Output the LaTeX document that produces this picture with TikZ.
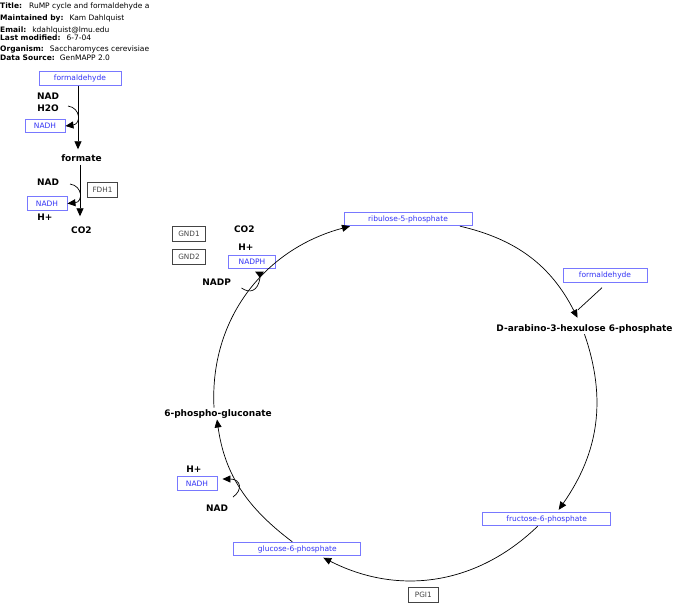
\documentclass[tikz,border=0pt]{standalone}
\usepackage{fontspec}
\setmainfont{DejaVu Sans}
\usepackage{tikz}
\usetikzlibrary{arrows.meta, positioning}
\definecolor{Blue}   {HTML}{3333F5}
\definecolor{BoxBlue}{HTML}{7878FF}
\definecolor{Gene}   {HTML}{444444}
\tikzset{
  mbox/.style={draw=BoxBlue, fill=white, line width=0.9pt, text=Blue, inner sep=0pt,
               font=\fontsize{7.5}{9}\selectfont, minimum height=13.5pt},
  gbox/.style={draw=Gene, line width=0.8pt, text=Gene, inner sep=0pt,
               font=\fontsize{7.3}{9}\selectfont, minimum height=15pt},
  lbl/.style={inner sep=0pt, text height=7pt, text depth=0pt,
              font=\fontsize{9}{10}\selectfont\bfseries},
  hdr/.style={anchor=base west, inner sep=0pt, font=\fontsize{7.5}{9}\selectfont},
  arr/.style={-{Triangle[length=8pt,width=7pt]}, line width=0.7pt},
  ln/.style={line width=0.7pt}
}

\begin{document}
\begin{tikzpicture}[x=1pt, y=-1pt]
  \useasboundingbox (0,0) rectangle (697,613);
  % header
  \node[hdr] (title)  at (0,8.7)  {\textbf{Title:}\hspace{7pt}RuMP cycle and formaldehyde a};
  \node[hdr] (maint)  at (0,20)   {\textbf{Maintained by:}\hspace{6pt}Kam Dahlquist};
  \node[hdr] (email)  at (0,32)   {\textbf{Email:}\hspace{6pt}kdahlquist@lmu.edu};
  \node[hdr] (modif)  at (0,40.4) {\textbf{Last modified:}\hspace{6pt}6-7-04};
  \node[hdr] (organ)  at (0,51.7) {\textbf{Organism:}\hspace{6pt}Saccharomyces cerevisiae};
  \node[hdr] (source) at (0,60.4) {\textbf{Data Source:}\hspace{5pt}GenMAPP 2.0};

  % formaldehyde -> formate -> CO2
  \node[mbox, minimum width=82pt] (fald1) at (80,78.5) {formaldehyde};
  \node[lbl] (nad1)    at (48,96)    {NAD};
  \node[lbl] (h2o)     at (48,108)   {H2O};
  \node[mbox, minimum width=40pt] (nadh1) at (45,126) {NADH};
  \node[lbl] (formate) at (81.5,158) {formate};
  \node[lbl] (nad2)    at (48,182)   {NAD};
  \node[gbox, minimum width=30pt] (fdh1) at (102.5,189.5) {FDH1};
  \node[mbox, minimum width=40pt] (nadh2) at (47,203.5) {NADH};
  \node[lbl] (hplus1)  at (45,217)   {H+};
  \node[lbl] (co2a)    at (81.5,230) {CO2};
  \coordinate (c1) at (68,106);
  \coordinate (c2) at (70,184);

  \draw[arr, shorten >=5pt] ([xshift=-2pt]fald1.south) -- ([xshift=-2pt]fald1.south |- formate.north);
  \draw[arr, shorten <=3pt, shorten >=10pt] ([xshift=-1.5pt]formate.south) -- ([xshift=-1.5pt]formate.south |- co2a.north);
  \draw[arr] (c1) .. controls (81,108) and (81,124) .. (nadh1.east);
  \draw[arr] (c2) .. controls (83,186) and (83,202) .. (nadh2.east);

  % RuMP cycle
  \node[mbox, minimum width=128pt] (r5p) at (408,219)   {ribulose-5-phosphate};
  \node[mbox, minimum width=84pt]  (fald2) at (605,275.5) {formaldehyde};
  \node[lbl] (hu6p) at (584.5,327.5) {D-arabino-3-hexulose 6-phosphate};
  \node[mbox, minimum width=128pt] (f6p) at (546.7,519) {fructose-6-phosphate};
  \node[mbox, minimum width=127pt] (g6p) at (297.3,549) {glucose-6-phosphate};
  \node[gbox, minimum width=30pt]  (pgi1) at (423.3,594.5) {PGI1};
  \node[lbl] (pg6) at (218,413.3) {6-phospho-gluconate};
  \node[gbox, minimum width=33pt]  (gnd1) at (189,234) {GND1};
  \node[gbox, minimum width=33pt]  (gnd2) at (189,257) {GND2};
  \node[lbl] (co2b)   at (244.3,229.3) {CO2};
  \node[lbl] (hplus2) at (246,246.7)   {H+};
  \node[mbox, minimum width=47pt] (nadph) at (252,262) {NADPH};
  \node[lbl] (nadp)   at (216.7,281.7) {NADP};
  \node[lbl] (hplus3) at (194,469)     {H+};
  \node[mbox, minimum width=40pt] (nadh3) at (197,483.5) {NADH};
  \node[lbl] (nad3)   at (217,508)     {NAD};
  \coordinate (c3) at (241.5,288);
  \coordinate (c4) at (233,497);

  \draw[arr] ([xshift=52pt]r5p.south) to[out=-13, in=117] ([xshift=-7pt,yshift=6pt]hu6p.north);
  \draw[arr] ([yshift=-3pt]hu6p.south) to[out=-71, in=55] ([xshift=12pt,yshift=2pt]f6p.north);
  \draw[arr] ([xshift=-9pt]f6p.south) to[out=-136, in=-27] ([xshift=26pt,yshift=-1.5pt]g6p.south);
  \draw[arr] ([xshift=-5pt]g6p.north) to[out=143, in=-82] ([xshift=-1pt,yshift=-2.5pt]pg6.south);
  \draw[arr] ([xshift=-4pt,yshift=2pt]pg6.north) to[out=93, in=-165] ([xshift=-58pt]r5p.south);
  \draw[ln] ([xshift=-3pt,yshift=-5pt]fald2.south) -- ([xshift=-6.5pt,yshift=14pt]hu6p.north);

  % cofactors on the cycle
  \draw[ln] (c3) .. controls (250,294) and (258,291) .. (260,278);
  \fill (255,271.5) -- (264,271.5) -- (260,278) -- cycle;
  \draw[arr, shorten >=5pt] (c4) .. controls (243,490) and (241,479) .. ([yshift=4.5pt]nadh3.east);
\end{tikzpicture}
\end{document}
